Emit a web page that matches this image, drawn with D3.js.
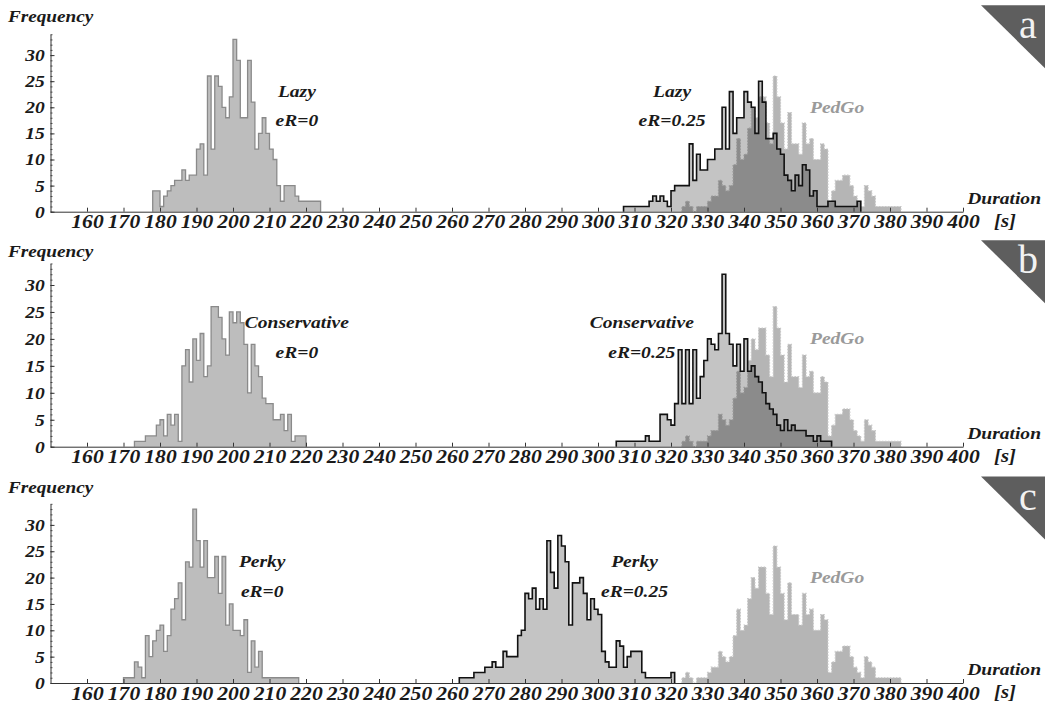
<!DOCTYPE html>
<html>
<head>
<meta charset="utf-8">
<script src="https://cdn.jsdelivr.net/npm/d3@7"></script>
<style>
  body { margin: 0; background: #fff; }
  svg text { font-family: "Liberation Serif", "Times New Roman", serif; font-weight: bold; font-style: italic; fill: #1a1a1a; }
</style>
</head>
<body>
<div id="viz"></div>
<script>
// tick values
var xTicks = d3.range(160, 401, 10);
var yTicks = [0, 5, 10, 15, 20, 25, 30];

// histograms, 1 s bins, counts starting at the given duration
var pedgoStart = 323;
var pedgoCounts = [1,2,1,0,1,1,1,2,3,3,6,5,4,5,9,14,10,11,16,20,18,22,22,17,13,26,22,17,12,19,13,13,11,17,13,14,10,10,13,12,2,4,6,6,7,7,5,3,2,1,5,4,3,1,1,1,1,1,1,1];

var lazy0Start = 178;
var lazy0Counts = [4,4,1,3,4,5,6,6,8,6,7,7,12,13,7,26,12,26,24,20,18,22,33,29,18,18,29,21,12,15,18,15,12,10,5,2,5,5,5,3,2,2,2,2,2,2];
var lazy25Start = 307;
var lazy25Counts = [1,1,1,1,1,1,1,2,3,2,3,2,1,4,5,5,5,5,13,6,11,8,8,10,10,12,12,20,12,23,15,18,18,23,21,20,15,25,21,14,14,15,12,11,7,6,4,7,5,9,8,3,4,1,1,1,2,2,1,1,1,1,1,1,2];

var cons0Start = 173;
var cons0Counts = [1,1,1,2,2,2,4,5,2,6,4,6,1,15,18,12,20,16,21,13,15,26,26,24,20,17,25,23,25,23,19,10,19,15,13,9,8,8,5,5,6,3,6,1,2,2,2];
var cons25Start = 305;
var cons25Counts = [1,1,1,1,1,1,1,1,2,1,1,1,6,6,5,4,8,18,8,18,8,18,9,13,16,20,19,18,21,32,21,19,15,19,14,20,14,15,13,12,10,8,7,6,4,3,5,3,4,3,3,3,2,2,1,2,1,1,1];

var perky0Start = 170;
var perky0Counts = [1,1,1,4,3,1,9,5,8,10,11,6,9,14,16,19,12,23,22,33,27,22,27,20,20,24,17,24,11,15,10,10,9,12,2,8,3,6,1,1,1,1,1,1,1,1,1,1];
var perky25Start = 262;
var perky25Counts = [1,1,1,1,2,2,2,3,3,4,3,3,6,5,5,5,9,10,17,16,18,14,16,14,27,21,18,28,26,23,11,19,19,20,17,12,16,14,13,6,4,3,3,8,7,3,5,6,6,6,2,1,1,1,1,1,1,1,2];

var panelLetters = ['a', 'b', 'c'];
var modelNames = ['Lazy', 'Conservative', 'Perky'];
var eR0Label = 'eR=0';
var eR25Label = 'eR=0.25';

// layout
var W = 1047, H = 709;
var baselines = [211.7, 446.7, 683];
var unitPx = [5.22, 5.39, 5.27];
var textScale = 1.15;

var panels = [
  { base: [lazy0Start, lazy0Counts], shifted: [lazy25Start, lazy25Counts],
    label0: [217.5, 22], label25: [320.3, 22] },
  { base: [cons0Start, cons0Counts], shifted: [cons25Start, cons25Counts],
    label0: [217.5, 22], label25: [312, 22] },
  { base: [perky0Start, perky0Counts], shifted: [perky25Start, perky25Counts],
    label0: [208, 22], label25: [310, 22] }
];

var svg = d3.select('#viz').append('svg')
  .attr('width', W).attr('height', H);

var x = d3.scaleLinear().domain([150, 400]).range([50.5, 963]);

function stepPoints(start, counts) {
  var pts = [[start, 0]];
  counts.forEach(function(c, i) { pts.push([start + i, c]); });
  pts.push([start + counts.length, counts[counts.length - 1]]);
  pts.push([start + counts.length, 0]);
  return pts;
}

function label(g, px, py, str, size, color) {
  return g.append('text')
    .attr('transform', 'translate(' + px + ',' + py + ') scale(' + textScale + ',1)')
    .attr('text-anchor', 'middle')
    .style('font-size', size + 'px')
    .style('fill', color || '#1a1a1a')
    .text(str);
}

panels.forEach(function(p, k) {
  var base = baselines[k];
  var y = d3.scaleLinear().domain([0, 34]).range([base, base - 34 * unitPx[k]]);
  var g = svg.append('g');

  var area = d3.area().curve(d3.curveStepAfter)
    .x(function(d) { return x(d[0]); }).y0(base).y1(function(d) { return y(d[1]); });
  var line = d3.line().curve(d3.curveStepAfter)
    .x(function(d) { return x(d[0]); }).y(function(d) { return y(d[1]); });

  // eR = 0
  var p0 = stepPoints(p.base[0], p.base[1]);
  g.append('path').attr('d', area(p0)).attr('fill', '#bdbdbd');
  g.append('path').attr('d', line(p0)).attr('fill', 'none')
    .attr('stroke', '#8a8a8a').attr('stroke-width', 1.3);

  // PedGo
  var pg = stepPoints(pedgoStart, pedgoCounts);
  g.append('path').attr('d', area(pg)).attr('fill', '#000').attr('fill-opacity', 0.29);
  g.append('path').attr('d', line(pg)).attr('fill', 'none')
    .attr('stroke', '#c8c8c8').attr('stroke-width', 1.2).attr('stroke-dasharray', '1.5,1.5');

  // eR = 0.25
  var p25 = stepPoints(p.shifted[0], p.shifted[1]);
  g.append('path').attr('d', area(p25)).attr('fill', '#000').attr('fill-opacity', 0.23);
  g.append('path').attr('d', line(p25)).attr('fill', 'none')
    .attr('stroke', '#111').attr('stroke-width', 1.6);

  // axes
  var yMinor = d3.axisLeft(y).tickValues(d3.range(0, 35)).tickSize(-2).tickSizeOuter(0).tickFormat('');
  g.append('g').attr('transform', 'translate(' + x(150) + ',0)').call(yMinor)
    .call(function(s) { s.selectAll('line').attr('stroke', '#555'); s.select('.domain').remove(); });

  var yAxis = d3.axisLeft(y).tickValues(yTicks).tickSize(-4).tickSizeOuter(0).tickPadding(5);
  g.append('g').attr('transform', 'translate(' + x(150) + ',0)').call(yAxis)
    .call(function(s) {
      s.select('.domain').attr('stroke', '#333');
      s.selectAll('line').attr('stroke', '#333');
      s.selectAll('text').style('font-size', '17px').attr('transform', 'scale(' + textScale + ',1)');
    });

  var xAxis = d3.axisBottom(x).tickValues(xTicks).tickSize(-4).tickSizeOuter(0).tickPadding(4);
  g.append('g').attr('transform', 'translate(0,' + base + ')').call(xAxis)
    .call(function(s) {
      s.select('.domain').attr('stroke', '#333');
      s.selectAll('line').attr('stroke', '#333');
      s.selectAll('text').style('font-size', '18px').attr('transform', 'scale(1.2,1)');
    });

  // axis titles
  g.append('text').attr('transform', 'translate(8,' + (base - 190) + ') scale(1.2,1)')
    .style('font-size', '16px').text('Frequency');
  g.append('text').attr('transform', 'translate(1041,' + (base - 8) + ') scale(1.15,1)')
    .attr('text-anchor', 'end').style('font-size', '17px').text('Duration');
  label(g, 1005, base + 15, '[s]', 18);

  // series labels
  label(g, x(p.label0[0]), y(p.label0[1]), modelNames[k], 17);
  label(g, x(p.label0[0]), y(p.label0[1] - 5.6), eR0Label, 17);
  label(g, x(p.label25[0]), y(p.label25[1]), modelNames[k], 17);
  label(g, x(p.label25[0]), y(p.label25[1] - 5.6), eR25Label, 17);
  label(g, x(365.5), y(19), 'PedGo', 17, '#9a9a9a');

  // corner tag
  var top = base - 206.5;
  g.append('path')
    .attr('d', 'M981,' + top + 'L1045,' + top + 'L1045,' + (top + 63) + 'Z')
    .attr('fill', '#5e5e5e');
  g.append('text').attr('x', 1028).attr('y', top + 33)
    .attr('text-anchor', 'middle')
    .style('font-size', '40px').style('font-weight', 'normal').style('font-style', 'normal')
    .style('fill', '#f2f2f2').text(panelLetters[k]);
});
</script>
</body>
</html>
